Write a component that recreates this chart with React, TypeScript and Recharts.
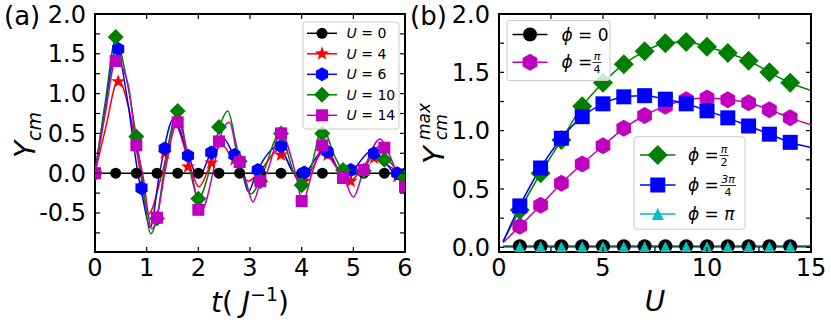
import { ComposedChart, Line, XAxis, YAxis, ReferenceArea } from 'recharts'

const FONT = "'DejaVu Sans', sans-serif"

// ---------- panel (a): Y_cm against t ----------
// marker sample times
const tEvery04 = [0, 0.4, 0.8, 1.2, 1.6, 2.0, 2.4, 2.8, 3.2, 3.6, 4.0, 4.4, 4.8, 5.2, 5.6, 6.0]
const tEvery045 = [0, 0.45, 0.9, 1.35, 1.8, 2.25, 2.7, 3.15, 3.6, 4.05, 4.5, 4.95, 5.4, 5.85]

// markers
const u0Marks = [0, 0, 0, 0, 0, 0, 0, 0, 0, 0, 0, 0, 0, 0, 0, 0]
const u4Marks = [0, 1.15, -0.16, 0.25, 0.08, 0.13, 0.17, 0.0, 0.23, -0.1, 0.23, -0.1, 0.19, -0.04]
const u6Marks = [0, 1.56, -0.19, 0.31, 0.22, 0.26, 0.23, 0.04, 0.34, 0.01, 0.27, 0.04, 0.25, 0.0]
const u10Marks = [0, 1.71, 0.46, -0.57, 0.78, -0.32, 0.58, 0.15, -0.1, 0.5, -0.15, 0.5, 0.04, 0.03, 0.17, -0.05]
const u14Marks = [0, 1.41, 0.35, -0.56, 0.64, -0.46, 0.4, 0.14, -0.1, 0.5, -0.35, 0.35, -0.06, 0.04, 0.32, -0.17]

// smooth curves, read at turning points and zero crossings
const u4CurveT = [0, 0.2, 0.45, 0.66, 0.88, 1.03, 1.3, 1.55, 1.84, 2.01, 2.2, 2.45, 2.68, 2.97, 3.16, 3.58, 3.8, 3.97, 4.15, 4.42, 4.7, 4.94, 5.1, 5.39, 5.6, 5.87, 6.0]
const u4CurveY = [0, 0.55, 1.17, 0.8, 0, -0.52, 0, 0.61, 0.08, -0.17, 0.05, 0.36, 0.15, -0.1, 0, 0.3, 0.05, -0.1, 0, 0.27, 0.05, -0.1, 0, 0.21, 0.12, 0.03, 0]

const u6CurveT = [0, 0.2, 0.42, 0.62, 0.83, 0.92, 1.07, 1.25, 1.52, 1.81, 2.0, 2.22, 2.48, 2.68, 2.85, 2.97, 3.12, 3.55, 3.82, 3.95, 4.08, 4.45, 4.7, 4.84, 5.0, 5.35, 5.6, 5.9, 6.0]
const u6CurveY = [0, 0.85, 1.57, 0.95, 0, -0.3, -0.68, 0, 0.68, 0.22, -0.06, 0.22, 0.44, 0.23, 0, -0.23, 0, 0.34, 0.03, -0.06, 0.01, 0.3, 0.06, -0.02, 0.05, 0.28, 0.15, -0.08, -0.1]

const u10CurveT = [0, 0.2, 0.4, 0.62, 0.8, 0.9, 1.08, 1.2, 1.33, 1.6, 1.85, 2.0, 2.2, 2.4, 2.57, 2.72, 2.86, 3.02, 3.25, 3.58, 3.85, 4.0, 4.15, 4.4, 4.65, 4.8, 5.0, 5.2, 5.5, 5.7, 6.0]
const u10CurveY = [0, 0.9, 1.68, 1.15, 0.45, 0, -0.76, -0.55, 0, 0.77, 0, -0.32, 0, 0.56, 0.78, 0.4, 0, -0.26, 0, 0.5, 0, -0.14, 0, 0.56, 0.2, 0.03, -0.02, 0.05, 0.34, 0.15, -0.06]

const u14CurveT = [0, 0.2, 0.4, 0.55, 0.66, 0.8, 0.92, 1.1, 1.2, 1.35, 1.6, 1.87, 2.05, 2.28, 2.4, 2.6, 2.78, 2.88, 3.06, 3.2, 3.32, 3.6, 3.88, 4.02, 4.2, 4.45, 4.7, 4.82, 5.0, 5.2, 5.52, 5.65, 5.85, 6.0]
const u14CurveY = [0, 0.75, 1.41, 1.3, 1.05, 0.35, 0, -0.7, -0.56, 0, 0.65, 0, -0.48, 0, 0.4, 0.64, 0.15, 0, -0.36, -0.12, 0, 0.5, 0, -0.36, 0, 0.37, 0.05, -0.06, -0.3, 0.04, 0.43, 0.3, 0, -0.17]

const tTicks = [0, 1, 2, 3, 4, 5, 6]
const yTicksA = [-0.75, -0.5, -0.25, 0, 0.25, 0.5, 0.75, 1, 1.25, 1.5, 1.75, 2]

// ---------- panel (b): Y_cm^max against U ----------
const uValues = [0.2, 1, 2, 3, 4, 5, 6, 7, 8, 9, 10, 11, 12, 13, 14, 15]
const phi0 = [0.01, 0.01, 0.01, 0.01, 0.01, 0.01, 0.01, 0.01, 0.01, 0.01, 0.01, 0.01, 0.01, 0.01, 0.01, 0.01]
const phiPi4 = [0.04, 0.18, 0.36, 0.55, 0.715, 0.87, 1.02, 1.13, 1.21, 1.265, 1.28, 1.265, 1.24, 1.18, 1.11, 1.05]
const phiPi2 = [0.05, 0.32, 0.635, 0.92, 1.21, 1.41, 1.57, 1.68, 1.75, 1.76, 1.72, 1.665, 1.6, 1.5, 1.41, 1.345]
const phi3Pi4 = [0.05, 0.355, 0.68, 0.935, 1.12, 1.23, 1.29, 1.3, 1.27, 1.23, 1.17, 1.11, 1.04, 0.97, 0.9, 0.855]
const phiPi = [0, 0, 0, 0, 0, 0, 0, 0, 0, 0, 0, 0, 0, 0, 0, 0]

const uTicks = [0, 2.5, 5, 7.5, 10, 12.5, 15]
const yTicksB = [0, 0.25, 0.5, 0.75, 1, 1.25, 1.5, 1.75, 2]

const zip = (xs: number[], ys: number[], key: string) => xs.map((x, i) => ({ [key]: x, y: ys[i] }))

type Box = { left: number; right: number; top: number; bottom: number }
const BOX_A: Box = { left: 95, right: 405, top: 14, bottom: 252 }
const BOX_B: Box = { left: 79, right: 391, top: 14, bottom: 252 }
const AXIS_W = 40
const AXIS_H = 30

const Marker = ({ kind, cx, cy, size, color }: any) => {
  const r = size / 2
  if (kind === 'circle') return <circle cx={cx} cy={cy} r={r} fill={color} />
  if (kind === 'square') return <rect x={cx - r} y={cy - r} width={size} height={size} fill={color} />
  if (kind === 'diamond')
    return <polygon points={`${cx},${cy - r} ${cx + r},${cy} ${cx},${cy + r} ${cx - r},${cy}`} fill={color} />
  if (kind === 'triangle')
    return <polygon points={`${cx},${cy - r} ${cx + r},${cy + r} ${cx - r},${cy + r}`} fill={color} />
  const pts: string[] = []
  if (kind === 'hexagon') {
    for (let k = 0; k < 6; k++) {
      const a = (-90 + 60 * k) * Math.PI / 180
      pts.push(`${cx + r * Math.cos(a)},${cy + r * Math.sin(a)}`)
    }
  } else {
    // star
    for (let k = 0; k < 10; k++) {
      const a = (-90 + 36 * k) * Math.PI / 180
      const rr = k % 2 === 0 ? r : r * 0.4
      pts.push(`${cx + rr * Math.cos(a)},${cy + rr * Math.sin(a)}`)
    }
  }
  return <polygon points={pts.join(' ')} fill={color} />
}

const dotAll = (kind: string, size: number, color: string) => (p: any) => (
  <Marker key={`${kind}-${p.index}`} kind={kind} cx={p.cx} cy={p.cy} size={size} color={color} />
)

// panel (b): markers only on the integer U values
const dotInner = (kind: string, size: number, color: string) => (p: any) => {
  const u = p.payload.u
  if (Number.isInteger(u) && u >= 1 && u <= 14)
    return <Marker key={`${kind}-${p.index}`} kind={kind} cx={p.cx} cy={p.cy} size={size} color={color} />
  return <g key={`${kind}-e-${p.index}`} />
}

const makeXTick = (box: Box, labelled: (v: number) => boolean) => (props: any) => {
  const x = props.x
  const v = props.payload.value
  return (
    <g>
      <line x1={x} x2={x} y1={box.bottom} y2={box.bottom - 5} stroke="#000" strokeWidth={1.2} />
      <line x1={x} x2={x} y1={box.top} y2={box.top + 5} stroke="#000" strokeWidth={1.2} />
      {labelled(v) && (
        <text x={x} y={box.bottom + 23.5} textAnchor="middle" fontSize={24} fontFamily={FONT} fill="#000">
          {String(v)}
        </text>
      )}
    </g>
  )
}

const makeYTick = (box: Box) => (props: any) => {
  const y = props.y
  const v = props.payload.value
  const labelled = Math.abs(v * 2 - Math.round(v * 2)) < 1e-9
  return (
    <g>
      <line x1={box.left} x2={box.left + 5} y1={y} y2={y} stroke="#000" strokeWidth={1.2} />
      <line x1={box.right - 5} x2={box.right} y1={y} y2={y} stroke="#000" strokeWidth={1.2} />
      {labelled && (
        <text x={box.left - 9} y={y + 8.5} textAnchor="end" fontSize={24} fontFamily={FONT} fill="#000">
          {v.toFixed(1)}
        </text>
      )}
    </g>
  )
}

const seriesA = [
  { key: 'u4', color: '#ff0000', kind: 'star', size: 15, curve: zip(u4CurveT, u4CurveY, 't'), marks: zip(tEvery045, u4Marks, 't') },
  { key: 'u6', color: '#0000ff', kind: 'hexagon', size: 14, curve: zip(u6CurveT, u6CurveY, 't'), marks: zip(tEvery045, u6Marks, 't') },
  { key: 'u10', color: '#008000', kind: 'diamond', size: 16, curve: zip(u10CurveT, u10CurveY, 't'), marks: zip(tEvery04, u10Marks, 't') },
  { key: 'u14', color: '#bf00bf', kind: 'square', size: 12, curve: zip(u14CurveT, u14CurveY, 't'), marks: zip(tEvery04, u14Marks, 't') },
]

const seriesB = [
  { key: 'p0', color: '#000000', kind: 'circle', size: 14, data: zip(uValues, phi0, 'u') },
  { key: 'p1', color: '#bf00bf', kind: 'hexagon', size: 17, data: zip(uValues, phiPi4, 'u') },
  { key: 'p2', color: '#008000', kind: 'diamond', size: 20, data: zip(uValues, phiPi2, 'u') },
  { key: 'p3', color: '#0000ff', kind: 'square', size: 15, data: zip(uValues, phi3Pi4, 'u') },
  { key: 'p4', color: '#00bfbf', kind: 'triangle', size: 12, data: zip(uValues, phiPi, 'u') },
]

const LegendRow = ({ x1, x2, y, kind, size, color }: any) => (
  <g>
    <line x1={x1} x2={x2} y1={y} y2={y} stroke={color} strokeWidth={1.5} />
    <Marker kind={kind} cx={(x1 + x2) / 2} cy={y} size={size} color={color} />
  </g>
)

const Frac = ({ x, y, num, den }: any) => (
  <g>
    <text x={x} y={y - 2.5} textAnchor="middle" fontSize={11} fontStyle="italic">{num}</text>
    <line x1={x - (num.length > 1 ? 8 : 4.5)} x2={x + (num.length > 1 ? 8 : 4.5)} y1={y} y2={y} stroke="#000" strokeWidth={0.8} />
    <text x={x} y={y + 10.5} textAnchor="middle" fontSize={11}>{den}</text>
  </g>
)

const uLabels = ['0', '4', '6', '10', '14']

export default function App() {
  return (
    <div style={{ position: 'relative', width: 831, height: 325, background: '#fff', fontFamily: FONT }}>
      <style>{'body{margin:0}'}</style>
      <div style={{ position: 'absolute', left: 0, top: 0 }}>
        <ComposedChart width={420} height={325}
          margin={{ top: 14, right: 15, bottom: 73 - AXIS_H, left: 95 - AXIS_W }}>
          <XAxis type="number" dataKey="t" domain={[0, 6]} ticks={tTicks} interval={0}
            tick={makeXTick(BOX_A, () => true)} tickLine={false} axisLine={false} height={AXIS_H} allowDataOverflow />
          <YAxis type="number" domain={[-0.99, 2]} ticks={yTicksA} interval={0}
            tick={makeYTick(BOX_A)} tickLine={false} axisLine={false} width={AXIS_W} allowDataOverflow />
          <Line data={zip(tEvery04, u0Marks, 't')} dataKey="y" stroke="#000" strokeWidth={1.5}
            dot={dotAll('circle', 11, '#000')} activeDot={false} isAnimationActive={false} />
          {seriesA.flatMap(s => [
            <Line key={s.key + 'c'} data={s.curve} dataKey="y" type="monotone" stroke={s.color} strokeWidth={1.5}
              dot={false} activeDot={false} isAnimationActive={false} />,
            <Line key={s.key + 'm'} data={s.marks} dataKey="y" stroke="none"
              dot={dotAll(s.kind, s.size, s.color)} activeDot={false} isAnimationActive={false} />,
          ])}
          <ReferenceArea x1={0} x2={6} y1={-0.99} y2={2} fill="none" stroke="#000" strokeWidth={2} ifOverflow="visible" />
        </ComposedChart>
      </div>
      <div style={{ position: 'absolute', left: 420, top: 0 }}>
        <ComposedChart width={411} height={325}
          margin={{ top: 14, right: 20, bottom: 73 - AXIS_H, left: 79 - AXIS_W }}>
          <XAxis type="number" dataKey="u" domain={[0, 15]} ticks={uTicks} interval={0}
            tick={makeXTick(BOX_B, v => v % 5 === 0)} tickLine={false} axisLine={false} height={AXIS_H} allowDataOverflow />
          <YAxis type="number" domain={[-0.04, 2]} ticks={yTicksB} interval={0}
            tick={makeYTick(BOX_B)} tickLine={false} axisLine={false} width={AXIS_W} allowDataOverflow />
          {seriesB.map(s => (
            <Line key={s.key} data={s.data} dataKey="y" type="monotone" stroke={s.color} strokeWidth={1.5}
              dot={dotInner(s.kind, s.size, s.color)} activeDot={false} isAnimationActive={false} />
          ))}
          <ReferenceArea x1={0} x2={15} y1={-0.04} y2={2} fill="none" stroke="#000" strokeWidth={2} ifOverflow="visible" />
        </ComposedChart>
      </div>

      <svg width={831} height={325} style={{ position: 'absolute', left: 0, top: 0, pointerEvents: 'none' }}
        fontFamily={FONT} fill="#000">
        <text x={4} y={24.5} fontSize={26}>(a)</text>
        <text x={410} y={24.5} fontSize={26}>(b)</text>

        <text x={250} y={312} textAnchor="middle" fontSize={28}>
          <tspan fontStyle="italic">t</tspan>(<tspan fontStyle="italic"> J</tspan>
          <tspan dy={-11} fontSize={19}>−1</tspan><tspan dy={11}>)</tspan>
        </text>
        <text x={655} y={311} textAnchor="middle" fontSize={28} fontStyle="italic">U</text>

        <g transform="translate(35,158) rotate(-90)">
          <text fontSize={28} fontStyle="italic">Y<tspan fontSize={19} dy={6}>cm</tspan></text>
        </g>
        <g transform="translate(444,164) rotate(-90)">
          <text fontSize={29} fontStyle="italic">Y</text>
          <text x={24} y={-14} fontSize={17} fontStyle="italic">max</text>
          <text x={24} y={3} fontSize={17} fontStyle="italic">cm</text>
        </g>

        {/* legend (a) */}
        <rect x={303} y={22} width={96} height={107} rx={3} fill="#fff" fillOpacity={0.8} stroke="#cccccc" />
        {[{ color: '#000', kind: 'circle', size: 11 }, ...seriesA].map((s, i) => {
          const y = 33.3 + i * 20.5
          return (
            <g key={i}>
              <LegendRow x1={307} x2={337} y={y} kind={s.kind} size={s.size} color={s.color} />
              <text x={346.5} y={y + 5} fontSize={14}>
                <tspan fontStyle="italic">U</tspan> = {uLabels[i]}
              </text>
            </g>
          )
        })}

        {/* legend (b), upper */}
        <rect x={507} y={20.5} width={103} height={60} rx={3} fill="#fff" fillOpacity={0.8} stroke="#cccccc" />
        <LegendRow x1={512.5} x2={547.5} y={34.5} kind="circle" size={14} color="#000" />
        <text x={561.5} y={40.5} fontSize={17}><tspan fontStyle="italic">ϕ</tspan> = 0</text>
        <LegendRow x1={512.5} x2={547.5} y={62.3} kind="hexagon" size={17} color="#bf00bf" />
        <text x={561.5} y={68} fontSize={17}><tspan fontStyle="italic">ϕ</tspan> =</text>
        <Frac x={597} y={62.5} num="π" den="4" />

        {/* legend (b), lower */}
        <rect x={634} y={136.7} width={111} height={92.6} rx={3} fill="#fff" fillOpacity={0.8} stroke="#cccccc" />
        <LegendRow x1={640} x2={675.5} y={155} kind="diamond" size={20} color="#008000" />
        <text x={688} y={161} fontSize={17}><tspan fontStyle="italic">ϕ</tspan> =</text>
        <Frac x={724} y={155.5} num="π" den="2" />
        <LegendRow x1={640} x2={675.5} y={185} kind="square" size={15} color="#0000ff" />
        <text x={688} y={191} fontSize={17}><tspan fontStyle="italic">ϕ</tspan> =</text>
        <Frac x={728} y={185.5} num="3π" den="4" />
        <LegendRow x1={640} x2={675.5} y={214} kind="triangle" size={12} color="#00bfbf" />
        <text x={688} y={220} fontSize={17}><tspan fontStyle="italic">ϕ</tspan> = <tspan fontStyle="italic">π</tspan></text>
      </svg>
    </div>
  )
}
